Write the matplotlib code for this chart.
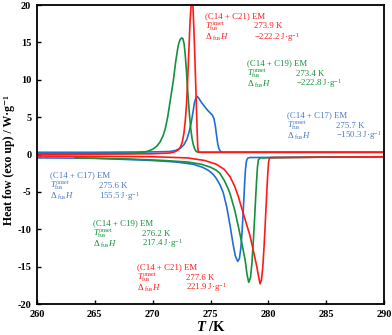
import matplotlib
matplotlib.use("Agg")
import matplotlib.pyplot as plt

plt.rcParams['font.family'] = ['Liberation Serif', 'DejaVu Serif']
plt.rcParams['mathtext.fontset'] = 'custom'
plt.rcParams['mathtext.rm'] = 'Liberation Serif'
plt.rcParams['mathtext.it'] = 'Liberation Serif:italic'
plt.rcParams['mathtext.bf'] = 'Liberation Serif:bold'
plt.rcParams['mathtext.bfit'] = 'Liberation Serif:bold:italic'
plt.rcParams['axes.unicode_minus'] = False

RED = '#ff1a1a'
GREEN = '#14913c'
BLUE = '#1f6fd6'
BLUE_TXT = '#4a78c8'

# cooling curves (exo up)
cool_c21_T = [260, 265, 270, 271.5, 271.9, 272.2, 272.4, 272.55, 272.7, 272.82, 272.92, 273.0, 273.08,
              273.16, 273.24, 273.32, 273.4, 273.48, 273.56, 273.64, 273.72, 273.8, 273.86, 273.9,
              273.95, 274.05, 280, 290]
cool_c21_q = [0.0, 0.05, 0.1, 0.2, 0.35, 0.6, 1.0, 1.6, 2.8, 4.5, 6.5, 9.0, 12.0,
              15.0, 18.0, 19.8, 20.3, 20.0, 17.0, 13.5, 9.5, 5.5, 2.5, 0.9,
              0.4, 0.3, 0.3, 0.3]

cool_c19_T = [260, 265, 268.0, 268.7, 269.2, 269.6, 270.0, 270.35, 270.65, 270.9, 271.1, 271.3, 271.55,
              271.8, 272.0, 272.2, 272.35, 272.5, 272.62, 272.72, 272.82, 272.92, 273.0, 273.1,
              273.2, 273.3, 273.4, 273.5, 273.62, 273.75, 273.9, 280, 290]
cool_c19_q = [0.1, 0.1, 0.15, 0.22, 0.32, 0.45, 0.7, 1.1, 1.7, 2.5, 3.5, 5.0, 7.5,
              10.0, 12.5, 14.5, 15.3, 15.6, 15.5, 14.8, 13.3, 11.2, 9.2, 7.0,
              5.0, 3.4, 2.2, 1.4, 0.8, 0.45, 0.3, 0.3, 0.3]

cool_c17_T = [260, 265, 270, 271.5, 272.0, 272.4, 272.7, 272.95, 273.15, 273.35, 273.5, 273.62, 273.75,
              273.87, 274.0, 274.2, 274.45, 274.7, 274.95, 275.15, 275.3, 275.42, 275.52, 275.62,
              275.72, 275.85, 276.0, 280, 290]
cool_c17_q = [0.3, 0.3, 0.35, 0.4, 0.55, 0.85, 1.3, 2.0, 3.0, 4.4, 5.8, 7.0, 7.6,
              7.75, 7.5, 7.0, 6.5, 6.0, 5.6, 5.3, 4.8, 3.8, 2.6, 1.5,
              0.8, 0.45, 0.3, 0.3, 0.3]

# heating curves (endo down)
heat_c21_T = [260, 270, 273, 274.5, 275.5, 276.2, 276.7, 277.1, 277.4, 277.7, 278.05, 278.4, 278.65,
              279.0, 279.15, 279.28, 279.4, 279.52, 279.62, 279.72, 279.8, 279.88, 279.95, 280.02,
              280.1, 280.3, 285, 290]
heat_c21_q = [-0.2, -0.3, -0.45, -0.8, -1.3, -2.0, -3.0, -4.3, -5.6, -7.2, -9.0, -10.8, -12.5,
              -15.0, -16.3, -17.3, -16.8, -15.0, -12.5, -9.5, -7.0, -4.5, -2.5, -1.0,
              -0.45, -0.4, -0.35, -0.3]

heat_c19_T = [263.3, 268, 271, 273, 274.2, 275.0, 275.5, 275.8, 276.2, 276.5, 276.7, 277.1, 277.4,
              277.7, 278.0, 278.15, 278.3, 278.45, 278.58, 278.7, 278.8, 278.9, 278.98, 279.06,
              279.14, 279.3, 285, 290]
heat_c19_q = [-0.45, -0.6, -0.8, -1.0, -1.3, -1.7, -2.1, -2.5, -3.5, -4.5, -5.3, -7.5, -9.6,
              -11.8, -14.2, -16.0, -17.1, -16.5, -14.5, -11.5, -8.8, -5.8, -3.5, -1.6,
              -0.7, -0.45, -0.35, -0.3]

heat_c17_T = [260, 265, 270, 272, 273.5, 274.3, 274.8, 275.2, 275.5, 275.8, 276.1, 276.4, 276.7,
              276.95, 277.15, 277.35, 277.5, 277.62, 277.72, 277.8, 277.88, 277.95, 278.02, 278.1,
              278.2, 278.4, 285, 290]
heat_c17_q = [-0.45, -0.5, -0.8, -1.0, -1.3, -1.7, -2.1, -2.6, -3.2, -4.0, -5.1, -7.0, -9.6,
              -12.0, -13.6, -14.3, -13.9, -12.5, -10.5, -8.3, -6.0, -3.8, -2.0, -0.9,
              -0.5, -0.4, -0.35, -0.3]

fig = plt.figure(figsize=(3.92, 3.35), dpi=100)
ax = fig.add_axes([0.094, 0.0925, 0.886, 0.8925])

lw = 1.2
ax.plot(cool_c17_T, cool_c17_q, color=BLUE, lw=lw)
ax.plot(heat_c17_T, heat_c17_q, color=BLUE, lw=lw)
ax.plot(cool_c19_T, cool_c19_q, color=GREEN, lw=lw)
ax.plot(heat_c19_T, heat_c19_q, color=GREEN, lw=lw)
ax.plot(cool_c21_T, cool_c21_q, color=RED, lw=lw)
ax.plot(heat_c21_T, heat_c21_q, color=RED, lw=lw)

ax.set_xlim(260, 290)
ax.set_ylim(-20, 20)
ax.set_xticks(range(260, 291, 5))
ax.set_yticks(range(-20, 21, 5))
ax.tick_params(direction='in', length=3, width=1, labelsize=7.5, pad=4)
for lab in ax.get_xticklabels() + ax.get_yticklabels():
    lab.set_fontweight('bold')
for sp in ax.spines.values():
    sp.set_linewidth(1.3)

ax.set_xlabel(r'$\mathbfit{T}$ /K', fontsize=10.5, fontweight='bold')
ax.xaxis.set_label_coords(0.5, -0.055)
ax.set_ylabel('Heat fow (exo up) / W\u00b7g\u207b\u00b9', fontsize=8.5, fontweight='bold')
ax.yaxis.set_label_coords(-0.064, 0.48)

fs = 6.3


def block(x, y, name, tval, hval, color, dx=49, dy=10.5):
    # three-line annotation, positions in pixels from the top-left of the figure
    W, H = 392.0, 335.0
    def p(px, py):
        return px / W, 1 - py / H
    fig.text(*p(x, y), name, color=color, fontsize=fs, va='center')
    fig.text(*p(x, y + dy), r'$T_{\rm fus}^{\rm onset}$', color=color, fontsize=fs, va='center')
    fig.text(*p(x + dx, y + dy), tval, color=color, fontsize=fs, va='center')
    fig.text(*p(x, y + 2 * dy), r'$\Delta_{\rm\ fus}\,H$', color=color, fontsize=fs, va='center')
    fig.text(*p(x + dx, y + 2 * dy), hval, color=color, fontsize=fs, va='center')


block(205, 16, '(C14 + C21) EM', '273.9 K', '\u2212222.2 J\u00b7g$^{-1}$', RED)
block(247, 63, '(C14 + C19) EM', '273.4 K', '\u2212222.8 J\u00b7g$^{-1}$', GREEN)
block(287, 115, '(C14 + C17) EM', '275.7 K', '\u2212150.3 J\u00b7g$^{-1}$', BLUE_TXT)
block(50, 175, '(C14 + C17) EM', '275.6 K', '155.5 J\u00b7g$^{-1}$', BLUE_TXT)
block(93, 223, '(C14 + C19) EM', '276.2 K', '217.4 J\u00b7g$^{-1}$', GREEN)
block(137, 267, '(C14 + C21) EM', '277.6 K', '221.9 J\u00b7g$^{-1}$', RED)

fig.savefig('out.png', dpi=100)
